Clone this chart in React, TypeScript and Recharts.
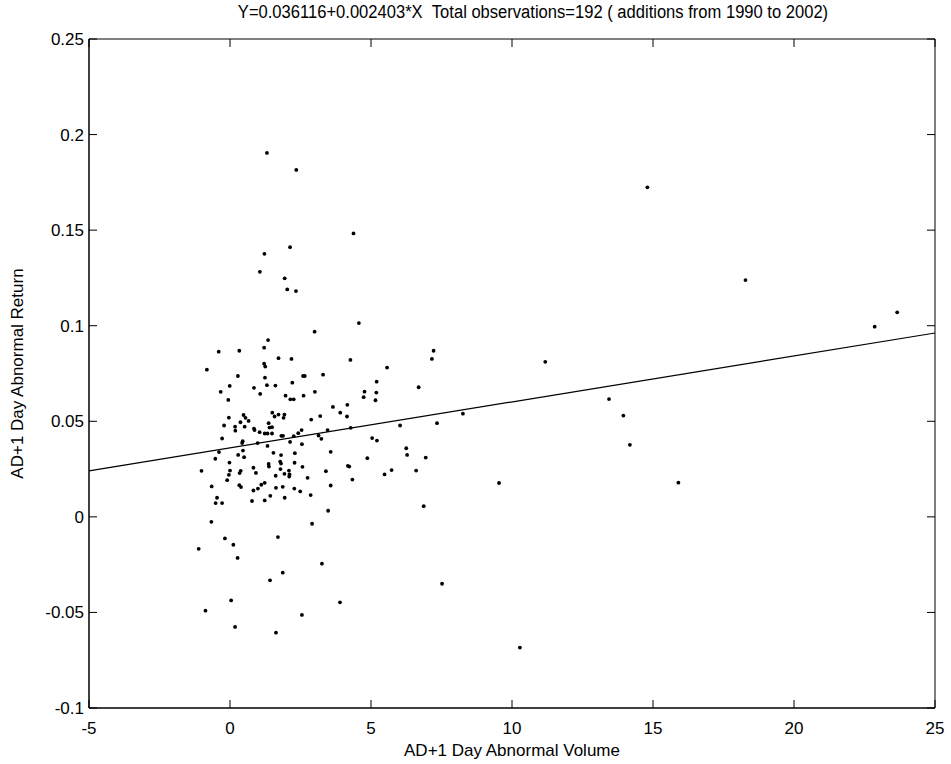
import React from "react";
import {
  ScatterChart,
  Scatter,
  XAxis,
  YAxis,
  ReferenceLine,
  ReferenceArea,
} from "recharts";

// fitted line from the title
const INTERCEPT = 0.036116;
const SLOPE = 0.002403;

const xTicks = [-5, 0, 5, 10, 15, 20, 25];
const yTicks = [-0.1, -0.05, 0, 0.05, 0.1, 0.15, 0.2, 0.25];

// AD+1 day abnormal volume (x)
const volume = [
  1.31, 2.35, 4.38, 2.13, 1.22, 1.06, 1.94, 2.03, 2.34, 4.57,
  3.0, 1.35, 1.21, -0.4, 0.33, 1.72, 2.18, 4.27, -0.82, 1.21,
  1.25, 0.28, 1.24, 2.59, 2.65, 3.3, -0.01, 1.31, 1.61, 0.85,
  2.21, -0.33, 1.07, 1.97, 2.61, 3.01, 2.14, 2.26, -0.06, 3.65,
  4.16, 3.91, 4.15, 3.2, 2.88, -0.04, -0.21, 0.48, 0.55, 0.66,
  0.37, 0.18, 0.19, 0.52, 0.85, 0.87, 1.05, 1.23, 1.37, 1.49,
  1.33, 1.49, 1.5, 1.58, 1.72, 1.93, 1.9, 1.82, 1.88, 2.42,
  2.54, 2.26, 3.14, 3.24, 3.46, 4.28, -0.28, 0.45, 0.43, 0.98,
  1.33, 2.13, 2.55, -0.39, 0.46, 1.54, 2.3, 3.57, -0.52, 0.29,
  0.5, 1.81, -0.02, 1.37, 1.78, 1.81, 2.29, -1.01, 0.0, -0.04,
  0.34, 0.38, 0.83, 0.92, 1.38, 1.62, 1.79, 1.93, 2.09, 2.11,
  2.1, 2.57, 2.75, 3.4, 4.18, 4.23, 4.34, -0.1, -0.65, 0.33,
  0.39, 0.83, 0.99, 1.11, 1.23, 1.63, 1.87, 2.28, 2.49, 3.57,
  2.86, -0.46, -0.51, -0.28, 0.78, 1.23, 1.43, 1.94, 3.48, -0.66,
  2.91, -0.18, 1.7, -1.11, 0.12, 0.27, 3.26, 1.87, 1.42, 0.04,
  -0.87, 3.9, 2.55, 0.18, 1.63,
  7.22, 7.16, 5.57, 5.2, 4.77, 4.74, 5.19, 5.16, 6.69, 8.26,
  7.34, 6.03, 5.04, 5.21, 6.25, 6.28, 4.87, 6.94, 5.73, 5.48,
  6.6, 9.54, 6.87, 7.52, 10.28, 14.8, 11.18, 13.44, 13.95, 14.18,
  15.9, 18.28, 22.86, 23.66, 1.4,
];

// AD+1 day abnormal return (y)
const returns = [
  0.1904, 0.1815, 0.1483, 0.1411, 0.1376, 0.1282, 0.1248, 0.119, 0.1181, 0.1014,
  0.0969, 0.0925, 0.0885, 0.0864, 0.0869, 0.083, 0.0826, 0.0821, 0.077, 0.0801,
  0.0786, 0.0737, 0.0728, 0.0737, 0.0737, 0.0744, 0.0685, 0.0689, 0.0687, 0.0675,
  0.0702, 0.0654, 0.0643, 0.0634, 0.0634, 0.0654, 0.0615, 0.0615, 0.0612, 0.0575,
  0.0586, 0.0545, 0.0525, 0.0527, 0.0509, 0.0519, 0.0478, 0.0533, 0.0518, 0.0502,
  0.0495, 0.0472, 0.0451, 0.0472, 0.0462, 0.0454, 0.0443, 0.0436, 0.049, 0.0469,
  0.0436, 0.0436, 0.0545, 0.0525, 0.0535, 0.0535, 0.0518, 0.0424, 0.0424, 0.0438,
  0.0454, 0.0422, 0.0425, 0.0408, 0.0454, 0.0466, 0.041, 0.0396, 0.0386, 0.0386,
  0.0371, 0.0392, 0.038, 0.0339, 0.0347, 0.0335, 0.0333, 0.034, 0.0304, 0.0324,
  0.0312, 0.0323, 0.0284, 0.0277, 0.0289, 0.0279, 0.0283, 0.0241, 0.0242, 0.022,
  0.0229, 0.0241, 0.0257, 0.023, 0.0263, 0.0215, 0.025, 0.0225, 0.0242, 0.0222,
  0.0211, 0.0262, 0.0204, 0.0239, 0.0267, 0.0263, 0.0195, 0.0192, 0.0159, 0.0166,
  0.0156, 0.0138, 0.0148, 0.0168, 0.0178, 0.0152, 0.0157, 0.0148, 0.0133, 0.0164,
  0.0114, 0.01, 0.0072, 0.0072, 0.0083, 0.0086, 0.011, 0.01, 0.0032, -0.0026,
  -0.0036, -0.0113, -0.0106, -0.0167, -0.0146, -0.0215, -0.0245, -0.0292, -0.0332, -0.0437,
  -0.0491, -0.0447, -0.0513, -0.0576, -0.0606,
  0.0869, 0.0826, 0.0781, 0.0707, 0.0655, 0.0626, 0.065, 0.061, 0.0678, 0.054,
  0.049, 0.0478, 0.0412, 0.0399, 0.0359, 0.0324, 0.0307, 0.031, 0.0245, 0.0222,
  0.0242, 0.0177, 0.0056, -0.035, -0.0684, 0.1724, 0.0811, 0.0616, 0.053, 0.0377,
  0.0179, 0.1239, 0.0995, 0.107, 0.0467,
];

const points = volume.map((v, i) => ({ x: v, y: returns[i] }));

const FONT = '"Liberation Sans", Arial, Helvetica, sans-serif';

// plot box edges in pixels (from margins + axis sizes below)
const TOP = 39;
const BOTTOM = 708;
const LEFT = 89;
const RIGHT = 935;
const TICK_LEN = 8;

const Dot = (props: any) => {
  const { cx, cy } = props;
  return <circle cx={cx} cy={cy} r={1.9} fill="#000" />;
};

// matlab style: ticks point inward, on both opposite sides of the box
const XTick = (props: any) => {
  const { x, payload } = props;
  return (
    <g>
      <line x1={x} x2={x} y1={BOTTOM} y2={BOTTOM - TICK_LEN} stroke="#000" />
      <line x1={x} x2={x} y1={TOP} y2={TOP + TICK_LEN} stroke="#000" />
      <text
        x={x}
        y={BOTTOM + 26}
        textAnchor="middle"
        fill="#000"
        fontSize={17}
        fontFamily={FONT}
      >
        {payload.value}
      </text>
    </g>
  );
};

const YTick = (props: any) => {
  const { y, payload } = props;
  return (
    <g>
      <line x1={LEFT} x2={LEFT + TICK_LEN} y1={y} y2={y} stroke="#000" />
      <line x1={RIGHT} x2={RIGHT - TICK_LEN} y1={y} y2={y} stroke="#000" />
      <text
        x={LEFT - 5}
        y={y}
        dy="0.35em"
        textAnchor="end"
        fill="#000"
        fontSize={17}
        fontFamily={FONT}
      >
        {payload.value}
      </text>
    </g>
  );
};

export default function App() {
  return (
    <div
      style={{
        position: "absolute",
        left: 0,
        top: 0,
        width: 951,
        height: 764,
        background: "#fff",
        fontFamily: FONT,
        overflow: "hidden",
      }}
    >
      <div
        style={{
          position: "absolute",
          top: 2,
          left: 21,
          width: 1024,
          textAlign: "center",
          fontSize: 18,
          color: "#000",
          transform: "scaleX(0.92)",
          transformOrigin: "center",
          whiteSpace: "nowrap",
        }}
      >
        Y=0.036116+0.002403*X&nbsp;&nbsp;Total observations=192 ( additions from 1990 to 2002)
      </div>
      <ScatterChart
        width={951}
        height={764}
        margin={{ top: TOP, right: 951 - RIGHT, bottom: 0, left: 0 }}
      >
        <XAxis
          xAxisId="b"
          type="number"
          dataKey="x"
          domain={[-5, 25]}
          ticks={xTicks}
          allowDataOverflow
          height={764 - BOTTOM}
          stroke="#000"
          tickLine={false}
          tickSize={0}
          tickMargin={0}
          tick={<XTick />}
          label={{
            value: "AD+1 Day Abnormal Volume",
            position: "insideBottom",
            offset: 8,
            fill: "#000",
            fontSize: 17,
            fontFamily: FONT,
          }}
        />
        <YAxis
          yAxisId="l"
          type="number"
          dataKey="y"
          domain={[-0.1, 0.25]}
          ticks={yTicks}
          allowDataOverflow
          width={LEFT}
          stroke="#000"
          tickLine={false}
          tickSize={0}
          tickMargin={0}
          tick={<YTick />}
          label={{
            value: "AD+1 Day Abnormal Return",
            angle: -90,
            position: "insideLeft",
            dx: 12,
            fill: "#000",
            fontSize: 17,
            fontFamily: FONT,
            style: { textAnchor: "middle" },
          }}
        />
        <ReferenceArea
          xAxisId="b"
          yAxisId="l"
          x1={xTicks[0]}
          x2={xTicks[xTicks.length - 1]}
          y1={yTicks[0]}
          y2={yTicks[yTicks.length - 1]}
          fill="none"
          fillOpacity={0}
          stroke="#000"
          strokeOpacity={1}
          strokeWidth={1}
        />
        <ReferenceLine
          xAxisId="b"
          yAxisId="l"
          segment={[
            { x: -5, y: INTERCEPT + SLOPE * -5 },
            { x: 25, y: INTERCEPT + SLOPE * 25 },
          ]}
          stroke="#000"
          strokeWidth={1.2}
        />
        <Scatter
          xAxisId="b"
          yAxisId="l"
          data={points}
          shape={<Dot />}
          isAnimationActive={false}
        />
      </ScatterChart>
    </div>
  );
}
